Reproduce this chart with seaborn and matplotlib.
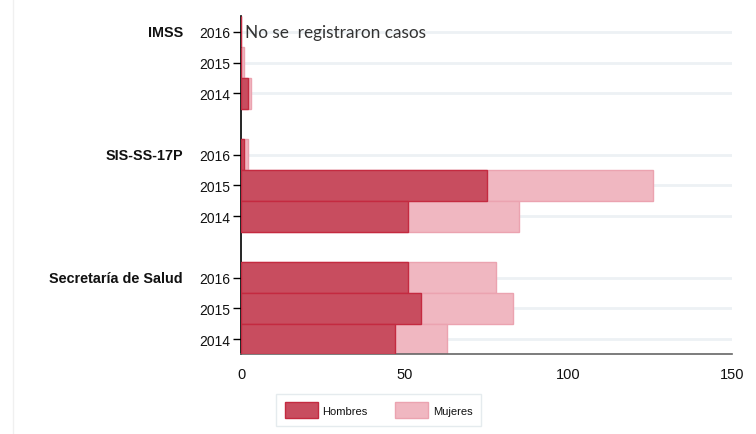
import matplotlib.pyplot as plt
from matplotlib.lines import Line2D
from matplotlib.patches import Patch
import pandas as pd
import seaborn as sns

# ----------------------
# Data
# ----------------------
groups = ["IMSS", "SIS-SS-17P", "Secretaría de Salud"]
years = ["2016", "2015", "2014"]
hombres = [[0, 0, 2], [1, 75, 51], [51, 55, 47]]
mujeres = [[0, 1, 1], [1, 51, 34], [27, 28, 16]]
note_text = "No se  registraron casos"

dark = "#c84d5f"
dark_edge = "#c42a40"
light = "#f0b7c1"
light_edge = "#eba3b0"

rows = []
order = []
for gi, g in enumerate(groups):
    for yi, yr in enumerate(years):
        key = f"{g} {yr}"
        order.append(key)
        h = hombres[gi][yi]
        m = mujeres[gi][yi]
        rows.append({"row": key, "group": g, "year": yr, "hombres": h, "total": h + m})
    if gi < len(groups) - 1:
        order.append(f"gap{gi}")  # empty row between groups
df = pd.DataFrame(rows)

# ----------------------
# Figure
# ----------------------
sns.set_style("white")
plt.rcParams["font.family"] = ["Liberation Sans", "DejaVu Sans"]
plt.rcParams["text.color"] = "#111111"
plt.rcParams["xtick.labelcolor"] = "#111111"
plt.rcParams["ytick.labelcolor"] = "#111111"

fig = plt.figure(figsize=(7.56, 4.35), dpi=100)
ax = fig.add_axes([0.3188, 0.1828, 0.6495, 0.777])

# light bar = total (stack top), dark bar = hombres on top of it
sns.barplot(data=df, y="row", x="total", order=order, orient="h", width=1.0,
            color=light, edgecolor=light_edge, linewidth=1, saturation=1, ax=ax, zorder=2)
sns.barplot(data=df, y="row", x="hombres", order=order, orient="h", width=1.0,
            color=dark, edgecolor=dark_edge, linewidth=1, saturation=1, ax=ax, zorder=3)

pos = [order.index(k) for k in df["row"]]
ax.set_yticks(pos)
ax.set_yticklabels(df["year"], fontsize=10)
ax.set_ylim(len(order) - 0.5, -0.5)
ax.set_xlim(0, 150)
ax.set_xticks([0, 50, 100, 150])
ax.tick_params(axis="x", labelsize=10.5, length=6, width=1, color="#555555", direction="out", pad=3)
ax.tick_params(axis="y", length=6, width=1, color="black", left=True, pad=2)
ax.set_xlabel("")
ax.set_ylabel("")

for p in pos:
    ax.axhline(p, color="#edf1f4", linewidth=2, zorder=0)

for s in ["top", "right"]:
    ax.spines[s].set_visible(False)
ax.spines["left"].set_color("black")
ax.spines["left"].set_linewidth(1.2)
ax.spines["bottom"].set_color("#666666")
ax.spines["bottom"].set_linewidth(1.2)

# group labels
for g in groups:
    p = order.index(f"{g} {years[0]}")
    ax.text(-0.118, p, g, transform=ax.get_yaxis_transform(), ha="right", va="center",
            fontsize=10.4, fontweight="bold")

ax.text(1.2, order.index(f"{groups[0]} {years[0]}"), note_text, ha="left", va="center",
        fontsize=12.4, color="#333333", family=["Lato", "DejaVu Sans"], zorder=4)

handles = [Patch(facecolor=dark, edgecolor=dark_edge, label="Hombres"),
           Patch(facecolor=light, edgecolor=light_edge, label="Mujeres")]
leg = fig.legend(handles=handles, loc="center", bbox_to_anchor=(378.5 / 756, 1 - 411.3 / 435),
                 ncol=2, fontsize=8, handlelength=2.97, handleheight=1.8, columnspacing=2.5,
                 handletextpad=0.42, fancybox=False, borderpad=0.75)
leg.get_frame().set_edgecolor("#dfe7ea")
leg.get_frame().set_linewidth(1)

fig.add_artist(Line2D([13 / 756, 13 / 756], [0, 1], color="#f0f0f0", linewidth=1))

fig.savefig("out.png", dpi=100)
